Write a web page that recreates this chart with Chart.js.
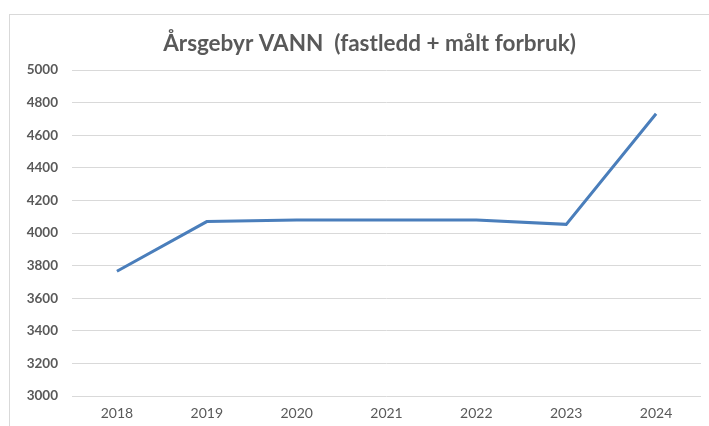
<!DOCTYPE html>
<html>
<head>
<meta charset="utf-8">
<script src="https://cdn.jsdelivr.net/npm/chart.js@4"></script>
<style>
  body { margin: 0; background: #fff; overflow: hidden; }
  #frame { position: absolute; left: 9px; top: 14px; width: 760px; height: 460px; border: 1px solid #d9d9d9; }
  #wrap { position: absolute; left: 0; top: 0; width: 709px; height: 426px; }
</style>
</head>
<body>
<div id="frame"></div>
<div id="wrap"><canvas id="chart"></canvas></div>
<script>
const years = ['2018', '2019', '2020', '2021', '2022', '2023', '2024'];
const fees = [3765, 4070, 4080, 4080, 4080, 4053, 4732];
const yTicks = [3000, 3200, 3400, 3600, 3800, 4000, 4200, 4400, 4600, 4800, 5000];

const font = "Lato, 'Liberation Sans', sans-serif";

// the original title sits a bit right of the canvas centre
const shiftTitle = {
    id: 'shiftTitle',
    afterLayout(chart) {
        if (chart.titleBlock) chart.titleBlock.left += 38;
    }
};

new Chart(document.getElementById('chart'), {
    type: 'line',
    data: {
        labels: years,
        datasets: [{
            label: 'Årsgebyr',
            data: fees,
            borderColor: '#4a7ebb',
            borderWidth: 3,
            pointRadius: 0,
            tension: 0
        }]
    },
    options: {
        responsive: true,
        maintainAspectRatio: false,
        animation: false,
        layout: { padding: { left: 0, right: 8, top: 0, bottom: 0 } },
        plugins: {
            legend: { display: false },
            tooltip: { enabled: false },
            title: {
                display: true,
                text: 'Årsgebyr VANN  (fastledd + målt forbruk)',
                color: '#595959',
                font: { family: font, size: 22.5, weight: 'bold', lineHeight: 1.2 },
                padding: { top: 30, bottom: 13 }
            }
        },
        scales: {
            x: {
                offset: true,
                grid: { display: false, drawTicks: false },
                border: { display: false },
                ticks: { color: '#595959', font: { family: font, size: 14 }, padding: 9 },
                afterFit: s => { s.height = 30; }
            },
            y: {
                min: yTicks[0],
                max: yTicks[yTicks.length - 1],
                afterBuildTicks: s => { s.ticks = yTicks.map(v => ({ value: v })); },
                grid: { color: '#d9d9d9', drawTicks: false },
                border: { display: false },
                ticks: {
                    color: '#595959',
                    font: { family: font, size: 13.5, weight: 'bold' },
                    padding: 14,
                    callback: v => String(v)
                },
                afterFit: s => { s.width = 72; }
            }
        }
    },
    plugins: [shiftTitle]
});
</script>
</body>
</html>
